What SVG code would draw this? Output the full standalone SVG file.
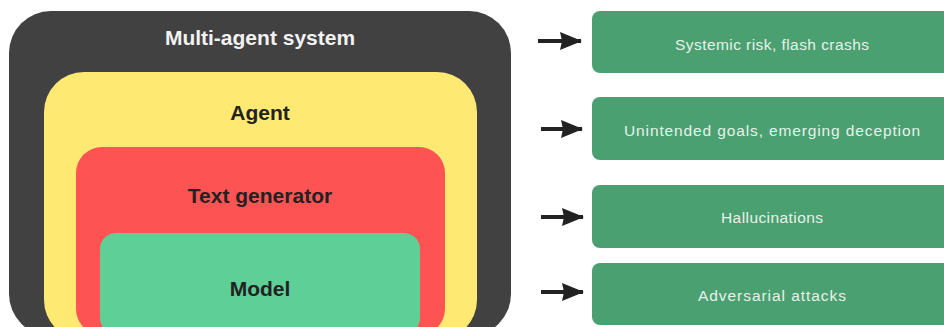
<svg xmlns="http://www.w3.org/2000/svg" width="944" height="327" viewBox="0 0 944 327">
<style>
.lbl{font-family:"Liberation Sans",Arial,sans-serif;font-weight:bold;text-anchor:middle;fill:#222222;font-size:21px}
.risk{fill:#4aa070}
.rt{font-family:"Liberation Sans",Arial,sans-serif;text-anchor:middle;fill:#e6f2ea;font-size:15.5px}
.arr{stroke:#222222;stroke-width:4;fill:none}
</style>
<defs>
<marker id="ah" viewBox="0 0 22 18" refX="21" refY="9" markerWidth="22" markerHeight="18" markerUnits="userSpaceOnUse" orient="auto">
<path d="M0,0 L22,9 L0,18 L2,9 Z" fill="#222222"/>
</marker>
</defs>
<rect width="944" height="327" fill="#ffffff"/>
<g id="multi-agent-system">
<rect x="9" y="11" width="502" height="325" rx="42" fill="#414141"/>
<text class="lbl" x="260" y="45" style="fill:#f2f2f2">Multi-agent system</text>
</g>
<g id="agent">
<rect x="44" y="72" width="433" height="268" rx="40" fill="#feea73"/>
<text class="lbl" x="260" y="120">Agent</text>
</g>
<g id="text-generator">
<rect x="76" y="147" width="369" height="188" rx="26" fill="#fe5353"/>
<text class="lbl" x="260" y="203">Text generator</text>
</g>
<g id="model">
<rect x="100" y="233" width="320" height="101" rx="16" fill="#5ed097"/>
<text class="lbl" x="260" y="296">Model</text>
</g>
<g id="risk-systemic">
<rect class="risk" x="592" y="11" width="370" height="62" rx="8"/>
<text class="rt" x="772" y="50" textLength="194" lengthAdjust="spacing">Systemic risk, flash crashs</text>
</g>
<g id="risk-goals">
<rect class="risk" x="592" y="97" width="370" height="63" rx="8"/>
<text class="rt" x="772" y="136" textLength="296" lengthAdjust="spacing">Unintended goals, emerging deception</text>
</g>
<g id="risk-hallucinations">
<rect class="risk" x="592" y="185" width="370" height="63" rx="8"/>
<text class="rt" x="772" y="223" textLength="102" lengthAdjust="spacing">Hallucinations</text>
</g>
<g id="risk-adversarial">
<rect class="risk" x="592" y="263" width="370" height="62" rx="8"/>
<text class="rt" x="772" y="301" textLength="148" lengthAdjust="spacing">Adversarial attacks</text>
</g>
<g id="connectors">
<line class="arr" x1="538" y1="41" x2="581" y2="41" marker-end="url(#ah)"/>
<line class="arr" x1="541" y1="129" x2="582" y2="129" marker-end="url(#ah)"/>
<line class="arr" x1="541" y1="217" x2="583" y2="217" marker-end="url(#ah)"/>
<line class="arr" x1="541" y1="292" x2="583" y2="292" marker-end="url(#ah)"/>
</g>
</svg>
